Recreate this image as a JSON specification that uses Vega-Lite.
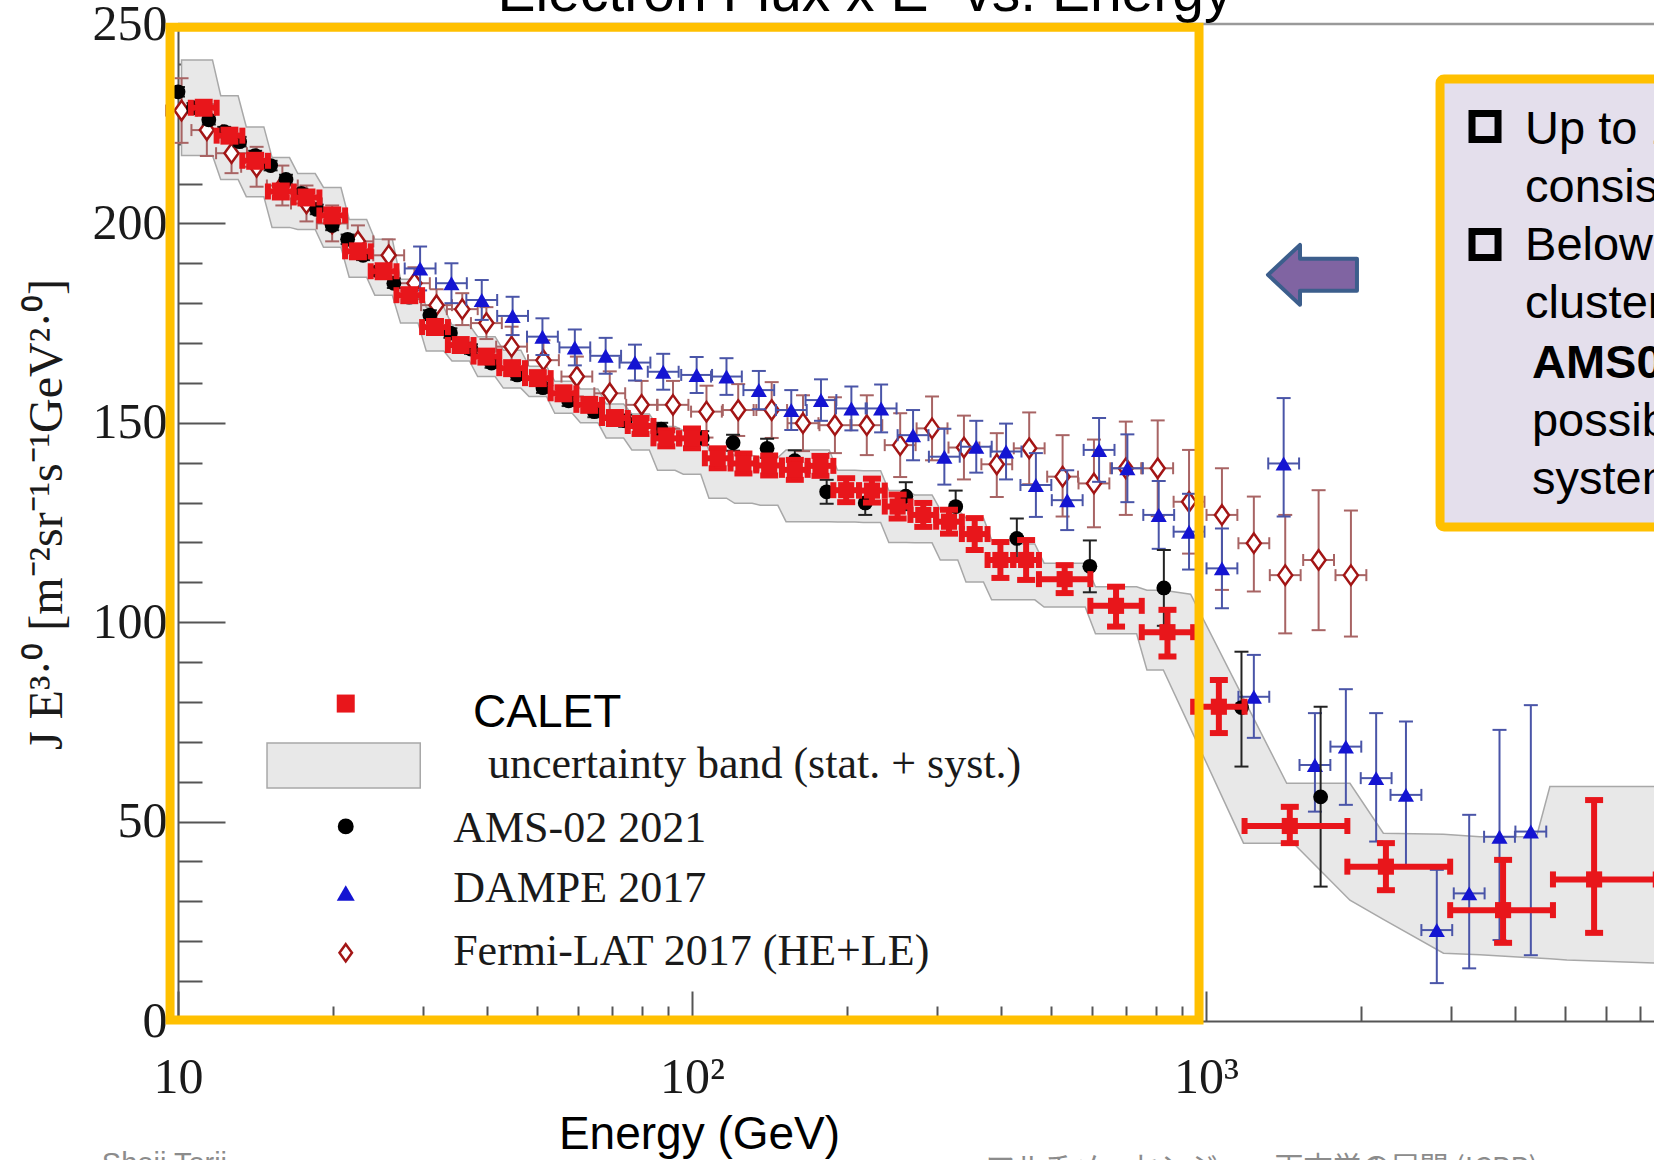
{
"$schema": "https://vega.github.io/schema/vega-lite/v6.json",
"width": 1476, "height": 997,
"autosize": {"type": "none"},
"padding": {"left": 178, "top": 24, "right": 0, "bottom": 139},
"background": "#ffffff",
"config": {"view": {"stroke": null}, "mark": {"opacity": 1}},
"resolve": {"axis": {"x": "independent", "y": "independent"}},
"datasets": {
"band": [
{"E":10.16,"lo":217,"hi":241},{"E":11.67,"lo":217,"hi":241},
{"E":12.11,"lo":211,"hi":232},{"E":13.09,"lo":211,"hi":232},
{"E":13.58,"lo":206.7,"hi":224.2},{"E":14.69,"lo":206.7,"hi":224.2},
{"E":15.24,"lo":199,"hi":216.5},{"E":16.48,"lo":199,"hi":216.5},
{"E":17.10,"lo":198.5,"hi":212.5},{"E":18.49,"lo":198.5,"hi":212.5},
{"E":19.19,"lo":194,"hi":209},{"E":20.75,"lo":194,"hi":209},
{"E":21.53,"lo":186.5,"hi":201},{"E":23.28,"lo":186.5,"hi":201},
{"E":24.15,"lo":182,"hi":196},{"E":26.12,"lo":182,"hi":196},
{"E":27.10,"lo":175,"hi":186},{"E":29.31,"lo":175,"hi":186},
{"E":30.41,"lo":168,"hi":179},{"E":32.89,"lo":168,"hi":179},
{"E":34.12,"lo":165.5,"hi":174.5},{"E":36.90,"lo":165.5,"hi":174.5},
{"E":38.28,"lo":161.6,"hi":171.6},{"E":41.40,"lo":161.6,"hi":171.6},
{"E":42.95,"lo":158.7,"hi":168.2},{"E":46.45,"lo":158.7,"hi":168.2},
{"E":48.19,"lo":156.6,"hi":164.2},{"E":52.12,"lo":156.6,"hi":164.2},
{"E":54.08,"lo":152.4,"hi":160.4},{"E":58.48,"lo":152.4,"hi":160.4},
{"E":60.67,"lo":150,"hi":158.5},{"E":65.61,"lo":150,"hi":158.5},
{"E":68.08,"lo":146.2,"hi":154.7},{"E":73.62,"lo":146.2,"hi":154.7},
{"E":76.38,"lo":143.2,"hi":152.2},{"E":82.60,"lo":143.2,"hi":152.2},
{"E":85.70,"lo":138.1,"hi":149.1},{"E":92.68,"lo":138.1,"hi":149.1},
{"E":96.16,"lo":137.1,"hi":148.1},{"E":104.0,"lo":137.1,"hi":148.1},
{"E":107.9,"lo":131.1,"hi":143.1},{"E":116.7,"lo":131.1,"hi":143.1},
{"E":121.1,"lo":129.8,"hi":141.8},{"E":130.9,"lo":129.8,"hi":141.8},
{"E":135.8,"lo":129.3,"hi":141.3},{"E":146.9,"lo":129.3,"hi":141.3},
{"E":152.4,"lo":125.2,"hi":143.2},{"E":184.9,"lo":125.2,"hi":143.2},
{"E":191.9,"lo":125.1,"hi":138.1},{"E":207.5,"lo":125.1,"hi":138.1},
{"E":215.3,"lo":125,"hi":138},{"E":232.8,"lo":125,"hi":138},
{"E":241.5,"lo":120,"hi":133},{"E":261.2,"lo":120,"hi":133},
{"E":271.0,"lo":119.9,"hi":131.9},{"E":293.1,"lo":119.9,"hi":131.9},
{"E":304.1,"lo":115.6,"hi":128.2},{"E":328.9,"lo":115.6,"hi":128.2},
{"E":341.2,"lo":110.1,"hi":126.1},{"E":369.0,"lo":110.1,"hi":126.1},
{"E":382.8,"lo":105.6,"hi":120.6},{"E":414.0,"lo":105.6,"hi":120.6},
{"E":429.5,"lo":105.6,"hi":119.6},{"E":464.5,"lo":105.6,"hi":119.6},
{"E":484.2,"lo":103.8,"hi":114.8},{"E":582.1,"lo":103.8,"hi":114.8},
{"E":609.5,"lo":97.1,"hi":108.9},{"E":732.8,"lo":97.1,"hi":108.9},
{"E":767.4,"lo":88,"hi":108},{"E":826.0,"lo":88,"hi":108},
{"E":933.3,"lo":73.3,"hi":107},{"E":1183.0,"lo":44.6,"hi":80.9},
{"E":1435.5,"lo":44.6,"hi":59.6},{"E":1479.1,"lo":44.6,"hi":59.6},
{"E":1905.5,"lo":30.3,"hi":59.6},{"E":2213.1,"lo":25.5,"hi":47.1},
{"E":2897.2,"lo":17.0,"hi":46.8},{"E":3412.0,"lo":16.6,"hi":46.2},
{"E":4395.4,"lo":15.8,"hi":46.2},{"E":4666.8,"lo":15.6,"hi":58.8},
{"E":5035.0,"lo":15.3,"hi":58.8},{"E":7498.9,"lo":14.5,"hi":58.8}
],
"calet": [
{"E":11.22,"Elo":10.59,"Ehi":11.89,"F":229,"Flo":227.5,"Fhi":230.5},
{"E":12.59,"Elo":11.89,"Ehi":13.34,"F":222,"Flo":220.5,"Fhi":223.5},
{"E":14.13,"Elo":13.34,"Ehi":14.96,"F":215.7,"Flo":214.2,"Fhi":217.2},
{"E":15.85,"Elo":14.96,"Ehi":16.79,"F":208,"Flo":206.5,"Fhi":209.5},
{"E":17.78,"Elo":16.79,"Ehi":18.84,"F":206.5,"Flo":205,"Fhi":208},
{"E":19.95,"Elo":18.84,"Ehi":21.14,"F":202,"Flo":200.5,"Fhi":203.5},
{"E":22.39,"Elo":21.14,"Ehi":23.71,"F":193,"Flo":191.5,"Fhi":194.5},
{"E":25.12,"Elo":23.71,"Ehi":26.61,"F":188,"Flo":186.5,"Fhi":189.5},
{"E":28.18,"Elo":26.61,"Ehi":29.85,"F":182,"Flo":180.5,"Fhi":183.5},
{"E":31.62,"Elo":29.85,"Ehi":33.50,"F":174,"Flo":172.5,"Fhi":175.5},
{"E":35.48,"Elo":33.50,"Ehi":37.58,"F":169.5,"Flo":168,"Fhi":171},
{"E":39.81,"Elo":37.58,"Ehi":42.17,"F":166.6,"Flo":165.1,"Fhi":168.1},
{"E":44.67,"Elo":42.17,"Ehi":47.32,"F":163.7,"Flo":162.2,"Fhi":165.2},
{"E":50.12,"Elo":47.32,"Ehi":53.09,"F":161.2,"Flo":159.7,"Fhi":162.7},
{"E":56.23,"Elo":53.09,"Ehi":59.57,"F":157.4,"Flo":155.9,"Fhi":158.9},
{"E":63.10,"Elo":59.57,"Ehi":66.83,"F":154.5,"Flo":153,"Fhi":156},
{"E":70.80,"Elo":66.83,"Ehi":74.99,"F":151.2,"Flo":149.7,"Fhi":152.7},
{"E":79.43,"Elo":74.99,"Ehi":84.14,"F":149.2,"Flo":147.2,"Fhi":151.2},
{"E":89.13,"Elo":84.14,"Ehi":94.41,"F":146.1,"Flo":144.1,"Fhi":148.1},
{"E":100.0,"Elo":94.41,"Ehi":105.93,"F":146.1,"Flo":143.6,"Fhi":148.6},
{"E":112.2,"Elo":105.93,"Ehi":118.85,"F":141.1,"Flo":138.6,"Fhi":143.6},
{"E":125.9,"Elo":118.85,"Ehi":133.35,"F":139.8,"Flo":137.3,"Fhi":142.3},
{"E":141.3,"Elo":133.35,"Ehi":149.62,"F":139.3,"Flo":136.8,"Fhi":141.8},
{"E":158.5,"Elo":149.62,"Ehi":167.88,"F":138.2,"Flo":135.7,"Fhi":140.7},
{"E":177.8,"Elo":167.88,"Ehi":188.36,"F":139.2,"Flo":136.7,"Fhi":141.7},
{"E":199.5,"Elo":188.36,"Ehi":211.35,"F":133.1,"Flo":130.1,"Fhi":136.1},
{"E":223.9,"Elo":211.35,"Ehi":237.14,"F":133.0,"Flo":130,"Fhi":136},
{"E":251.2,"Elo":237.14,"Ehi":266.07,"F":129.0,"Flo":126,"Fhi":132},
{"E":281.8,"Elo":266.07,"Ehi":298.54,"F":126.9,"Flo":123.9,"Fhi":129.9},
{"E":316.2,"Elo":298.54,"Ehi":334.97,"F":125.2,"Flo":122.2,"Fhi":128.2},
{"E":354.8,"Elo":334.97,"Ehi":375.84,"F":122.1,"Flo":118.1,"Fhi":126.1},
{"E":398.1,"Elo":375.84,"Ehi":421.70,"F":115.6,"Flo":111.1,"Fhi":120.1},
{"E":446.7,"Elo":421.70,"Ehi":473.15,"F":115.6,"Flo":110.6,"Fhi":120.6},
{"E":530.9,"Elo":473.15,"Ehi":595.66,"F":110.8,"Flo":107.3,"Fhi":114.3},
{"E":668.3,"Elo":595.66,"Ehi":749.89,"F":104.1,"Flo":98.9,"Fhi":108.9},
{"E":841.4,"Elo":749.89,"Ehi":944.06,"F":97.5,"Flo":91.4,"Fhi":103.1},
{"E":1059.3,"Elo":944.06,"Ehi":1188.5,"F":78.8,"Flo":72.2,"Fhi":85.5},
{"E":1455.5,"Elo":1188.5,"Ehi":1883.6,"F":48.9,"Flo":44.6,"Fhi":53.7},
{"E":2238.7,"Elo":1883.6,"Ehi":2985.4,"F":38.7,"Flo":32.8,"Fhi":44.6},
{"E":3784,"Elo":2985.4,"Ehi":4731.5,"F":27.8,"Flo":19.6,"Fhi":40.4},
{"E":5689,"Elo":4731.5,"Ehi":7498.9,"F":35.5,"Flo":22.1,"Fhi":55.4}
],
"ams": [
{"E":10.0,"F":233,"Flo":231.8,"Fhi":234.2},{"E":10.72,"F":229,"Flo":227.8,"Fhi":230.2},
{"E":11.48,"F":226,"Flo":224.8,"Fhi":227.2},{"E":12.30,"F":223,"Flo":221.8,"Fhi":224.2},
{"E":13.18,"F":220.5,"Flo":219.3,"Fhi":221.7},{"E":14.13,"F":217,"Flo":215.8,"Fhi":218.2},
{"E":15.14,"F":214.5,"Flo":213.3,"Fhi":215.7},{"E":16.22,"F":211,"Flo":209.8,"Fhi":212.2},
{"E":17.38,"F":207.5,"Flo":206.3,"Fhi":208.7},{"E":18.62,"F":203.5,"Flo":202.3,"Fhi":204.7},
{"E":19.95,"F":199.5,"Flo":198.3,"Fhi":200.7},{"E":21.38,"F":196,"Flo":194.8,"Fhi":197.2},
{"E":22.91,"F":192,"Flo":190.8,"Fhi":193.2},{"E":24.55,"F":188,"Flo":186.8,"Fhi":189.2},
{"E":26.30,"F":185,"Flo":183.8,"Fhi":186.2},{"E":28.18,"F":181.5,"Flo":180.3,"Fhi":182.7},
{"E":30.90,"F":177,"Flo":175.8,"Fhi":178.2},{"E":33.88,"F":172.5,"Flo":171.3,"Fhi":173.7},
{"E":37.15,"F":168.5,"Flo":167.3,"Fhi":169.7},{"E":40.74,"F":165,"Flo":163.8,"Fhi":166.2},
{"E":45.71,"F":162,"Flo":160.8,"Fhi":163.2},{"E":51.29,"F":158.8,"Flo":157.5,"Fhi":160.1},
{"E":57.54,"F":155.5,"Flo":154.2,"Fhi":156.8},{"E":64.57,"F":152.8,"Flo":151.4,"Fhi":154.2},
{"E":74.13,"F":150.5,"Flo":149,"Fhi":152},{"E":87.10,"F":148.4,"Flo":146.8,"Fhi":150},
{"E":104.7,"F":146.2,"Flo":144.5,"Fhi":147.9},{"E":120.2,"F":145,"Flo":143,"Fhi":147},
{"E":140.0,"F":143.6,"Flo":141.2,"Fhi":146},{"E":158.5,"F":140.5,"Flo":137.9,"Fhi":143.1},
{"E":182.8,"F":132.7,"Flo":129.7,"Fhi":135.7},{"E":217.3,"F":129.9,"Flo":126.9,"Fhi":132.9},
{"E":260.6,"F":131.6,"Flo":128.1,"Fhi":135.1},{"E":325.8,"F":129.0,"Flo":125,"Fhi":133},
{"E":428.5,"F":121.0,"Flo":116,"Fhi":126},{"E":594.3,"F":114.0,"Flo":107.5,"Fhi":120.5},
{"E":827.9,"F":108.6,"Flo":99.1,"Fhi":118.1},{"E":1172.2,"F":78.6,"Flo":63.8,"Fhi":92.6},
{"E":1671.0,"F":56.2,"Flo":33.7,"Fhi":78.8}
],
"dampe": [
{"E":29.58,"Elo":27.61,"Ehi":31.70,"F":188.7,"Flo":183.2,"Fhi":194.2},
{"E":34.04,"Elo":31.77,"Ehi":36.47,"F":185.0,"Flo":180,"Fhi":190},
{"E":38.99,"Elo":36.39,"Ehi":41.78,"F":180.8,"Flo":175.8,"Fhi":185.8},
{"E":44.77,"Elo":41.78,"Ehi":47.97,"F":176.8,"Flo":172,"Fhi":181.6},
{"E":51.17,"Elo":47.75,"Ehi":54.83,"F":171.6,"Flo":167,"Fhi":176.2},
{"E":59.16,"Elo":55.21,"Ehi":63.39,"F":168.9,"Flo":164.4,"Fhi":173.4},
{"E":67.92,"Elo":63.39,"Ehi":72.78,"F":166.8,"Flo":162.3,"Fhi":171.3},
{"E":77.45,"Elo":72.28,"Ehi":82.99,"F":165.1,"Flo":160.6,"Fhi":169.6},
{"E":87.90,"Elo":82.03,"Ehi":94.19,"F":162.8,"Flo":158.3,"Fhi":167.3},
{"E":102.1,"Elo":95.28,"Ehi":109.4,"F":162.0,"Flo":157.5,"Fhi":166.5},
{"E":116.7,"Elo":108.9,"Ehi":125.0,"F":161.6,"Flo":157,"Fhi":166.2},
{"E":134.9,"Elo":125.9,"Ehi":144.5,"F":158.2,"Flo":153.4,"Fhi":163},
{"E":156.0,"Elo":145.6,"Ehi":167.2,"F":153.2,"Flo":148.2,"Fhi":158.2},
{"E":178.2,"Elo":166.3,"Ehi":190.9,"F":155.7,"Flo":150.5,"Fhi":160.9},
{"E":204.2,"Elo":190.6,"Ehi":218.8,"F":153.6,"Flo":148.1,"Fhi":159.1},
{"E":233.3,"Elo":217.7,"Ehi":250.0,"F":153.6,"Flo":147.6,"Fhi":159.6},
{"E":269.2,"Elo":251.2,"Ehi":288.4,"F":146.9,"Flo":140.6,"Fhi":153.2},
{"E":309.7,"Elo":289.0,"Ehi":331.8,"F":141.5,"Flo":134.5,"Fhi":148.5},
{"E":357.3,"Elo":333.5,"Ehi":382.9,"F":144.0,"Flo":137.5,"Fhi":150.5},
{"E":408.3,"Elo":381.0,"Ehi":437.5,"F":142.8,"Flo":135.8,"Fhi":149.8},
{"E":466.7,"Elo":435.5,"Ehi":500.1,"F":134.4,"Flo":126.4,"Fhi":142.4},
{"E":537.0,"Elo":501.2,"Ehi":575.4,"F":130.6,"Flo":123.1,"Fhi":138.1},
{"E":619.4,"Elo":578.1,"Ehi":663.7,"F":143.2,"Flo":135.2,"Fhi":151.2},
{"E":703.1,"Elo":656.2,"Ehi":753.4,"F":138.6,"Flo":130.1,"Fhi":147.1},
{"E":809.1,"Elo":755.1,"Ehi":867.0,"F":126.9,"Flo":118.4,"Fhi":135.4},
{"E":926.8,"Elo":864.9,"Ehi":993.1,"F":122.7,"Flo":113.2,"Fhi":132.2},
{"E":1074,"Elo":1002.3,"Ehi":1150.8,"F":113.5,"Flo":103.5,"Fhi":123.5},
{"E":1239,"Elo":1156.3,"Ehi":1327.6,"F":81.3,"Flo":71.0,"Fhi":91.8},
{"E":1416,"Elo":1321.5,"Ehi":1517.3,"F":139.8,"Flo":126.5,"Fhi":156.2},
{"E":1629,"Elo":1520.3,"Ehi":1745.5,"F":64.2,"Flo":52.5,"Fhi":77.2},
{"E":1871,"Elo":1746.1,"Ehi":2004.8,"F":68.8,"Flo":54.2,"Fhi":83.2},
{"E":2143,"Elo":2000.0,"Ehi":2296.3,"F":60.9,"Flo":45.0,"Fhi":77.2},
{"E":2449,"Elo":2285.5,"Ehi":2624.2,"F":56.7,"Flo":38.7,"Fhi":75.1},
{"E":2812,"Elo":2624.3,"Ehi":3013.1,"F":22.8,"Flo":9.5,"Fhi":37.9},
{"E":3251,"Elo":3034.0,"Ehi":3483.5,"F":32.0,"Flo":13.2,"Fhi":51.7},
{"E":3724,"Elo":3475.4,"Ehi":3990.3,"F":46.2,"Flo":20.3,"Fhi":73.0},
{"E":4285,"Elo":3999.0,"Ehi":4591.5,"F":47.5,"Flo":16.5,"Fhi":79.2}
],
"fermi": [
{"E":10.16,"Elo":9.48,"Ehi":10.89,"F":228.3,"Flo":220.2,"Fhi":236.4},
{"E":11.38,"Elo":10.62,"Ehi":12.19,"F":223.4,"Flo":216.9,"Fhi":229.9},
{"E":12.71,"Elo":11.86,"Ehi":13.62,"F":217.6,"Flo":212.6,"Fhi":222.6},
{"E":14.22,"Elo":13.27,"Ehi":15.24,"F":214.2,"Flo":209.2,"Fhi":219.2},
{"E":15.96,"Elo":14.89,"Ehi":17.10,"F":209.5,"Flo":204.5,"Fhi":214.5},
{"E":17.78,"Elo":16.59,"Ehi":19.05,"F":205,"Flo":200.5,"Fhi":209.5},
{"E":19.95,"Elo":18.62,"Ehi":21.38,"F":200,"Flo":195.5,"Fhi":204.5},
{"E":22.39,"Elo":20.90,"Ehi":23.99,"F":195.5,"Flo":191.5,"Fhi":199.5},
{"E":25.70,"Elo":23.98,"Ehi":27.54,"F":192,"Flo":188,"Fhi":196},
{"E":28.84,"Elo":26.92,"Ehi":30.90,"F":185,"Flo":181,"Fhi":189},
{"E":31.84,"Elo":29.71,"Ehi":34.12,"F":179.5,"Flo":175.5,"Fhi":183.5},
{"E":35.73,"Elo":33.35,"Ehi":38.29,"F":178.5,"Flo":174.5,"Fhi":182.5},
{"E":39.81,"Elo":37.15,"Ehi":42.66,"F":175,"Flo":171,"Fhi":179},
{"E":44.57,"Elo":41.59,"Ehi":47.76,"F":169.1,"Flo":164.1,"Fhi":174.1},
{"E":51.40,"Elo":47.97,"Ehi":55.08,"F":165.7,"Flo":160.7,"Fhi":170.7},
{"E":59.70,"Elo":55.72,"Ehi":63.97,"F":161.6,"Flo":156.6,"Fhi":166.6},
{"E":69.18,"Elo":64.56,"Ehi":74.13,"F":157.4,"Flo":151.9,"Fhi":162.9},
{"E":79.80,"Elo":74.47,"Ehi":85.51,"F":154.5,"Flo":148.5,"Fhi":160.5},
{"E":91.83,"Elo":85.70,"Ehi":98.40,"F":154.5,"Flo":148.5,"Fhi":160.5},
{"E":106.7,"Elo":99.58,"Ehi":114.3,"F":152.8,"Flo":146.3,"Fhi":159.3},
{"E":123.0,"Elo":114.8,"Ehi":131.8,"F":153.2,"Flo":146.7,"Fhi":159.7},
{"E":142.9,"Elo":133.4,"Ehi":153.1,"F":153.2,"Flo":146.2,"Fhi":160.2},
{"E":164.4,"Elo":153.4,"Ehi":176.2,"F":149.9,"Flo":142.9,"Fhi":156.9},
{"E":189.7,"Elo":177.0,"Ehi":203.3,"F":149.4,"Flo":142.4,"Fhi":156.4},
{"E":218.8,"Elo":204.2,"Ehi":234.5,"F":149.4,"Flo":141.9,"Fhi":156.9},
{"E":254.1,"Elo":237.1,"Ehi":272.3,"F":144.4,"Flo":136.4,"Fhi":152.4},
{"E":293.1,"Elo":273.5,"Ehi":314.1,"F":148.6,"Flo":140.6,"Fhi":156.6},
{"E":338.1,"Elo":315.5,"Ehi":362.3,"F":143.8,"Flo":135.8,"Fhi":151.8},
{"E":391.7,"Elo":365.6,"Ehi":419.7,"F":139.6,"Flo":131.4,"Fhi":147.4},
{"E":452.9,"Elo":422.7,"Ehi":485.3,"F":143.6,"Flo":134.6,"Fhi":152.6},
{"E":526.0,"Elo":490.9,"Ehi":563.6,"F":136.5,"Flo":126.5,"Fhi":146.9},
{"E":605.3,"Elo":564.9,"Ehi":648.6,"F":134.8,"Flo":123.8,"Fhi":145.8},
{"E":698.2,"Elo":651.6,"Ehi":748.1,"F":138.6,"Flo":126.9,"Fhi":150.3},
{"E":805.4,"Elo":751.6,"Ehi":863.0,"F":138.6,"Flo":126.6,"Fhi":150.6},
{"E":926.8,"Elo":864.9,"Ehi":993.1,"F":130.2,"Flo":117.2,"Fhi":143.2},
{"E":1074,"Elo":1002.3,"Ehi":1150.8,"F":126.9,"Flo":108.1,"Fhi":138.6},
{"E":1239,"Elo":1156.3,"Ehi":1327.6,"F":119.8,"Flo":107.7,"Fhi":131.5},
{"E":1426,"Elo":1330.8,"Ehi":1528.0,"F":111.8,"Flo":97.2,"Fhi":126.9},
{"E":1656,"Elo":1545.5,"Ehi":1774.4,"F":115.6,"Flo":98.0,"Fhi":133.1},
{"E":1914,"Elo":1786.2,"Ehi":2050.9,"F":111.8,"Flo":96.4,"Fhi":128.0}
]
},
"layer": [
{"data": {"name": "band"},
 "mark": {"type": "area", "orient": "vertical", "fill": "#e8e8e8", "stroke": "#a8a8a8", "strokeWidth": 1.5, "clip": false},
 "encoding": {
  "x": {"field": "E", "type": "quantitative", "scale": {"type": "log", "domain": [10, 7440], "nice": false},
        "axis": {"orient": "bottom", "values": [10, 100, 1000], "tickSize": -30, "tickWidth": 2, "tickColor": "#555555", "labels": false, "domain": true, "domainColor": "#555555", "domainWidth": 2, "title": null, "grid": false}},
  "y": {"field": "lo", "type": "quantitative", "scale": {"domain": [0, 250], "nice": false, "zero": false},
        "axis": {"orient": "left", "values": [0, 50, 100, 150, 200, 250], "tickSize": -47, "tickWidth": 2, "tickColor": "#555555", "labels": false, "domain": true, "domainColor": "#555555", "domainWidth": 2, "title": null, "grid": false}},
  "y2": {"field": "hi"}
 }},
{"data": {"name": "fermi"},
 "mark": {"type": "errorbar", "ticks": true, "size": 12, "thickness": 2, "color": "#a86464", "opacity": 1},
 "encoding": {"x": {"field": "Elo", "type": "quantitative", "axis": null}, "x2": {"field": "Ehi"}, "y": {"field": "F", "type": "quantitative", "axis": null}}},
{"data": {"name": "fermi"},
 "mark": {"type": "errorbar", "ticks": true, "size": 14, "thickness": 2, "color": "#a86464", "opacity": 1},
 "encoding": {"x": {"field": "E", "type": "quantitative", "axis": null}, "y": {"field": "Flo", "type": "quantitative", "axis": null}, "y2": {"field": "Fhi"}}},
{"data": {"name": "fermi"},
 "mark": {"type": "point", "shape": "M 0 -1 L 0.72 0 L 0 1 L -0.72 0 Z", "size": 380, "filled": false, "fill": "#ffffff", "stroke": "#a31515", "strokeWidth": 2.5, "opacity": 1},
 "encoding": {"x": {"field": "E", "type": "quantitative", "axis": null}, "y": {"field": "F", "type": "quantitative", "axis": null}}},
{"data": {"name": "dampe"},
 "mark": {"type": "errorbar", "ticks": true, "size": 12, "thickness": 2, "color": "#4a55a8", "opacity": 1},
 "encoding": {"x": {"field": "Elo", "type": "quantitative", "axis": null}, "x2": {"field": "Ehi"}, "y": {"field": "F", "type": "quantitative", "axis": null}}},
{"data": {"name": "dampe"},
 "mark": {"type": "errorbar", "ticks": true, "size": 14, "thickness": 2, "color": "#4a55a8", "opacity": 1},
 "encoding": {"x": {"field": "E", "type": "quantitative", "axis": null}, "y": {"field": "Flo", "type": "quantitative", "axis": null}, "y2": {"field": "Fhi"}}},
{"data": {"name": "dampe"},
 "mark": {"type": "point", "shape": "triangle-up", "size": 260, "filled": true, "color": "#1414d2", "opacity": 1},
 "encoding": {"x": {"field": "E", "type": "quantitative", "axis": null}, "y": {"field": "F", "type": "quantitative", "axis": null}}},
{"data": {"name": "ams"},
 "mark": {"type": "errorbar", "ticks": true, "size": 14, "thickness": 2, "color": "#222222", "opacity": 1},
 "encoding": {"x": {"field": "E", "type": "quantitative", "axis": null}, "y": {"field": "Flo", "type": "quantitative", "axis": null}, "y2": {"field": "Fhi"}}},
{"data": {"name": "ams"},
 "mark": {"type": "point", "shape": "circle", "size": 220, "filled": true, "color": "#000000", "opacity": 1},
 "encoding": {
  "x": {"field": "E", "type": "quantitative",
        "axis": {"orient": "bottom", "values": [10, 100, 1000], "ticks": false, "domain": false, "grid": false, "labelFlush": false, "labelOverlap": false, "labelBound": false,
                 "labelExpr": "datum.value == 10 ? '10' : (datum.value == 100 ? '10²' : '10³')",
                 "labelFont": "Liberation Serif", "labelFontSize": 50, "labelColor": "#1a1a1a", "labelBaseline": "alphabetic", "labelPadding": 71,
                 "title": "Energy (GeV)", "titleFont": "Liberation Sans", "titleFontSize": 46, "titleFontWeight": "normal", "titleColor": "#000000",
                 "titleX": 521, "titleY": 127, "titleAlign": "center", "titleBaseline": "alphabetic", "titleAnchor": null}},
  "y": {"field": "F", "type": "quantitative",
        "axis": {"orient": "left", "values": [0, 50, 100, 150, 200, 250], "ticks": false, "domain": false, "grid": false, "labelOverlap": false, "labelBound": false,
                 "labelFont": "Liberation Serif", "labelFontSize": 50, "labelColor": "#1a1a1a", "labelPadding": 11,
                 "title": "J E³·⁰ [m⁻²sr⁻¹s⁻¹GeV²·⁰]", "titleFont": "Liberation Serif", "titleFontSize": 48, "titleFontWeight": "normal", "titleColor": "#1a1a1a",
                 "titleX": -131, "titleY": 490, "titleAngle": -90, "titleAlign": "center", "titleBaseline": "middle"}}
 }},
{"data": {"name": "calet"},
 "mark": {"type": "errorbar", "ticks": true, "size": 16, "thickness": 6, "color": "#e8161b", "opacity": 1},
 "encoding": {"x": {"field": "Elo", "type": "quantitative", "axis": null}, "x2": {"field": "Ehi"}, "y": {"field": "F", "type": "quantitative", "axis": null}}},
{"data": {"name": "calet"},
 "mark": {"type": "errorbar", "ticks": true, "size": 18, "thickness": 6, "color": "#e8161b", "opacity": 1},
 "encoding": {"x": {"field": "E", "type": "quantitative", "axis": null}, "y": {"field": "Flo", "type": "quantitative", "axis": null}, "y2": {"field": "Fhi"}}},
{"data": {"name": "calet"},
 "mark": {"type": "point", "shape": "square", "size": 260, "filled": true, "color": "#e8161b", "opacity": 1},
 "encoding": {
  "x": {"field": "E", "type": "quantitative",
        "axis": {"orient": "bottom", "values": [20, 30, 40, 50, 60, 70, 80, 90, 200, 300, 400, 500, 600, 700, 800, 900, 2000, 3000, 4000, 5000, 6000, 7000], "tickSize": -15, "tickWidth": 2, "tickColor": "#555555", "labels": false, "domain": false, "title": null, "grid": false}},
  "y": {"field": "F", "type": "quantitative",
        "axis": {"orient": "left", "values": [10, 20, 30, 40, 60, 70, 80, 90, 110, 120, 130, 140, 160, 170, 180, 190, 210, 220, 230, 240], "tickSize": -24, "tickWidth": 2, "tickColor": "#555555", "labels": false, "domain": false, "title": null, "grid": false}}
 }},
{"data": {"values": [{}]},
 "mark": {"type": "rule", "color": "#9a9a9a", "strokeWidth": 2.5},
 "encoding": {"y": {"datum": 250, "axis": null}}},
{"data": {"values": [{}]},
 "mark": {"type": "rect", "fill": "#e8e8e8", "stroke": "#a8a8a8", "strokeWidth": 1.5},
 "encoding": {"x": {"datum": 14.9, "axis": null}, "x2": {"datum": 29.6}, "y": {"datum": 58.4, "axis": null}, "y2": {"datum": 69.7}}},
{"data": {"values": [{}]},
 "mark": {"type": "point", "shape": "square", "size": 324, "filled": true, "color": "#e8161b", "opacity": 1},
 "encoding": {"x": {"datum": 21.2, "axis": null}, "y": {"datum": 79.6, "axis": null}}},
{"data": {"values": [{}]},
 "mark": {"type": "point", "shape": "circle", "size": 254, "filled": true, "color": "#000000", "opacity": 1},
 "encoding": {"x": {"datum": 21.2, "axis": null}, "y": {"datum": 48.8, "axis": null}}},
{"data": {"values": [{}]},
 "mark": {"type": "point", "shape": "triangle-up", "size": 324, "filled": true, "color": "#1414d2", "opacity": 1},
 "encoding": {"x": {"datum": 21.2, "axis": null}, "y": {"datum": 32.1, "axis": null}}},
{"data": {"values": [{}]},
 "mark": {"type": "point", "shape": "M 0 -1 L 0.72 0 L 0 1 L -0.72 0 Z", "size": 300, "filled": false, "fill": "#ffffff", "stroke": "#a31515", "strokeWidth": 2.5, "opacity": 1},
 "encoding": {"x": {"datum": 21.2, "axis": null}, "y": {"datum": 17.1, "axis": null}}},
{"data": {"values": [{}]},
 "mark": {"type": "text", "text": "CALET", "font": "Liberation Sans", "fontSize": 46, "align": "left", "baseline": "alphabetic", "color": "#000000"},
 "encoding": {"x": {"datum": 37.5, "axis": null}, "y": {"datum": 73.7, "axis": null}}},
{"data": {"values": [{}]},
 "mark": {"type": "text", "text": "uncertainty band (stat. + syst.)", "font": "Liberation Serif", "fontSize": 44, "align": "left", "baseline": "alphabetic", "color": "#1a1a1a"},
 "encoding": {"x": {"datum": 40.1, "axis": null}, "y": {"datum": 60.9, "axis": null}}},
{"data": {"values": [{}]},
 "mark": {"type": "text", "text": "AMS-02 2021", "font": "Liberation Serif", "fontSize": 44, "align": "left", "baseline": "alphabetic", "color": "#1a1a1a"},
 "encoding": {"x": {"datum": 34.3, "axis": null}, "y": {"datum": 44.9, "axis": null}}},
{"data": {"values": [{}]},
 "mark": {"type": "text", "text": "DAMPE 2017", "font": "Liberation Serif", "fontSize": 44, "align": "left", "baseline": "alphabetic", "color": "#1a1a1a"},
 "encoding": {"x": {"datum": 34.3, "axis": null}, "y": {"datum": 29.8, "axis": null}}},
{"data": {"values": [{}]},
 "mark": {"type": "text", "text": "Fermi-LAT 2017 (HE+LE)", "font": "Liberation Serif", "fontSize": 44, "align": "left", "baseline": "alphabetic", "color": "#1a1a1a"},
 "encoding": {"x": {"datum": 34.3, "axis": null}, "y": {"datum": 14.0, "axis": null}}},
{"data": {"values": [{}]},
 "mark": {"type": "text", "text": "Electron Flux  x E³  vs. Energy", "font": "Liberation Sans", "fontSize": 57, "align": "center", "baseline": "alphabetic", "color": "#000000"},
 "encoding": {"x": {"datum": 217.1, "axis": null}, "y": {"datum": 253.3, "axis": null}}},
{"data": {"values": [{}]},
 "mark": {"type": "text", "text": "Shoji Torii", "font": "Liberation Sans", "fontSize": 29, "align": "left", "baseline": "alphabetic", "color": "#8c8c8c"},
 "encoding": {"x": {"datum": 7.11, "axis": null}, "y": {"datum": -38.1, "axis": null}}},
{"data": {"values": [{}]},
 "mark": {"type": "text", "text": "マルチメッセンジャー天文学の展開 (ICRR)", "font": "Noto Sans CJK JP", "fontSize": 29, "align": "left", "baseline": "alphabetic", "color": "#8c8c8c"},
 "encoding": {"x": {"datum": 373, "axis": null}, "y": {"datum": -39.4, "axis": null}}},
{"data": {"values": [{}]},
 "mark": {"type": "rect", "fillOpacity": 0, "stroke": "#ffc000", "strokeWidth": 9},
 "encoding": {"x": {"datum": 9.65, "axis": null}, "x2": {"datum": 969.2}, "y": {"datum": 0.25, "axis": null}, "y2": {"datum": 249.2}}},
{"data": {"values": [{}]},
 "mark": {"type": "rect", "fill": "#e4dfec", "stroke": "#ffc000", "strokeWidth": 9, "cornerRadius": 4},
 "encoding": {"x": {"datum": 2853, "axis": null}, "x2": {"datum": 20000}, "y": {"datum": 123.9, "axis": null}, "y2": {"datum": 236.2}}},
{"data": {"values": [{}]},
 "mark": {"type": "point", "shape": "square", "size": 676, "filled": false, "fill": "#e4dfec", "stroke": "#000000", "strokeWidth": 7, "opacity": 1},
 "encoding": {"x": {"datum": 3490, "axis": null}, "y": {"datum": 224.3, "axis": null}}},
{"data": {"values": [{}]},
 "mark": {"type": "point", "shape": "square", "size": 676, "filled": false, "fill": "#e4dfec", "stroke": "#000000", "strokeWidth": 7, "opacity": 1},
 "encoding": {"x": {"datum": 3490, "axis": null}, "y": {"datum": 194.7, "axis": null}}},
{"data": {"values": [{}]},
 "mark": {"type": "text", "text": ["Up to 1 TeV, CALET and AMS02 are", "consistent within the errors", "Below 1 TeV, the data are", "clustered into two groups:"], "lineHeight": 58, "font": "Liberation Sans", "fontSize": 47, "align": "left", "baseline": "alphabetic", "color": "#000000"},
 "encoding": {"x": {"datum": 4175, "axis": null}, "y": {"datum": 219.8, "axis": null}}},
{"data": {"values": [{}]},
 "mark": {"type": "text", "text": "AMS02 + CALET vs. DAMPE + Fermi", "font": "Liberation Sans", "fontSize": 47, "fontWeight": "bold", "align": "left", "baseline": "alphabetic", "color": "#000000"},
 "encoding": {"x": {"datum": 4307, "axis": null}, "y": {"datum": 161.3, "axis": null}}},
{"data": {"values": [{}]},
 "mark": {"type": "text", "text": ["possibly due to the energy scale", "systematics"], "lineHeight": 58, "font": "Liberation Sans", "fontSize": 47, "align": "left", "baseline": "alphabetic", "color": "#000000"},
 "encoding": {"x": {"datum": 4307, "axis": null}, "y": {"datum": 146.8, "axis": null}}},
{"data": {"values": [{}]},
 "mark": {"type": "point", "shape": "M -1 0 L -0.28 -0.674 L -0.28 -0.36 L 1 -0.36 L 1 0.36 L -0.28 0.36 L -0.28 0.674 Z", "size": 7921, "filled": true, "fill": "#8064a2", "stroke": "#3c5e8c", "strokeWidth": 4, "strokeJoin": "round", "opacity": 1},
 "encoding": {"x": {"datum": 1611, "axis": null}, "y": {"datum": 187.1, "axis": null}}}
]
}
